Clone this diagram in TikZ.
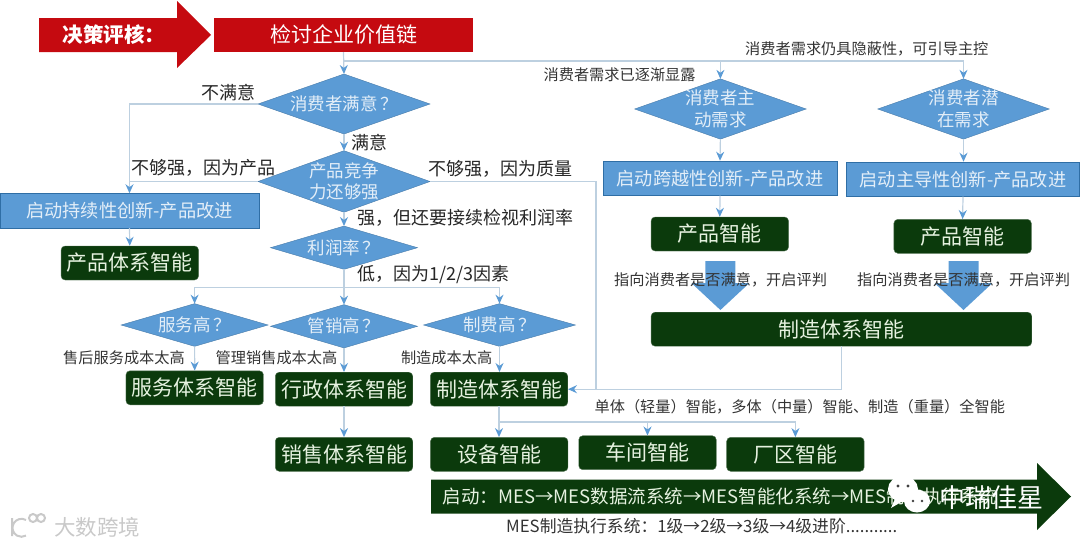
\documentclass[tikz,border=0pt]{standalone}
\usepackage{fontspec}
\usepackage{tikz}
\usetikzlibrary{shapes.geometric,arrows.meta}
\setmainfont{Noto Sans CJK SC}
\definecolor{redfill}{HTML}{C50A10}
\definecolor{bluefill}{HTML}{5B9BD5}
\definecolor{blueedge}{HTML}{2F6EA5}
\definecolor{bluetext}{HTML}{E3EEF8}
\definecolor{greenfill}{HTML}{0B3A0C}
\definecolor{greentext}{HTML}{E6F2E0}
\definecolor{linkgray}{HTML}{BDD0E0}
\definecolor{marktext}{HTML}{C9C9C9}
\tikzset{
    plain/.style={draw=linkgray, line width=1.2pt},
    link/.style={plain, -{Stealth[length=9pt,width=8pt,color=bluefill]}},
    decide/.style={diamond, shape aspect=3, fill=bluefill, draw=bluefill!80!black, thin, inner sep=-8pt, outer sep=0pt,
        text=bluetext, align=center, font=\fontsize{17.5}{21.5}\selectfont},
    bluebox/.style={draw=blueedge, fill=bluefill, thin, text=bluetext, inner sep=0pt, minimum height=34.5pt,
        font=\fontsize{18.2}{20}\selectfont},
    greenbox/.style={draw=greenfill!70!white, fill=greenfill, thin, rounded corners=4pt, text=greentext,
        inner sep=0pt, minimum height=34pt, minimum width=137.5pt, font=\fontsize{21}{24}\selectfont},
    bigtext/.style={text=black!85, inner sep=0pt, font=\fontsize{18}{21}\selectfont},
    smalltext/.style={text=black!80, inner sep=0pt, font=\fontsize{15.2}{18}\selectfont},
}

\begin{document}
\begin{tikzpicture}[x=1pt, y=-1pt]
    \useasboundingbox (0,0) rectangle (1080,546);

    % header
    \fill[redfill] (39,18) -- (177,18) -- (177,1) -- (211,35) -- (177,68) -- (177,52) -- (39,52) -- cycle;
    \node(textReview)[text=white, font=\fontsize{20.5}{24}\selectfont\bfseries] at (114,35) {决策评核：};
    \node(boxValue)[fill=redfill, text=white, inner sep=0pt, minimum width=259pt, minimum height=34pt,
        font=\fontsize{21}{24}\selectfont] at (343.5,35) {检讨企业价值链};

    % decisions
    \node(dmSat)[decide, minimum width=172pt, minimum height=60pt] at (344,104) {消费者满意\,？};
    \node(dmComp)[decide, minimum width=172pt, minimum height=61.6pt] at (344,181.5) {产品竞争\\力还够强};
    \node(dmProfit)[decide, minimum width=147pt, minimum height=43.3pt] at (344,247.7) {利润率\,？};
    \node(dmActive)[decide, minimum width=171.5pt, minimum height=60.3pt] at (720.4,109) {消费者主\\动需求};
    \node(dmLatent)[decide, minimum width=171.5pt, minimum height=60.3pt] at (963.5,109) {消费者潜\\在需求};
    \node(dmServ)[decide, minimum width=147pt, minimum height=42.7pt] at (194.6,325) {服务高\,？};
    \node(dmSales)[decide, minimum width=147pt, minimum height=43.3pt] at (344,326.3) {管销高\,？};
    \node(dmFee)[decide, minimum width=152pt, minimum height=42.7pt] at (499.5,325) {制费高\,？};

    % blue boxes
    \node(boxSust)[bluebox, minimum width=259pt] at (129.5,210.7) {启动持续性创新-产品改进};
    \node(boxCross)[bluebox, minimum width=233.8pt] at (720,178.2) {启动跨越性创新-产品改进};
    \node(boxLead)[bluebox, minimum width=233pt] at (963,179.2) {启动主导性创新-产品改进};

    % green boxes
    \foreach \name/\cx/\cy/\txt in {
        boxProd/129.8/263/产品体系智能, boxProdA/719.8/234/产品智能, boxProdB/962.6/236.3/产品智能,
        boxServ/194.7/387.8/服务体系智能, boxAdmin/344/389.2/行政体系智能, boxMfg/499/389.2/制造体系智能,
        boxSell/344/454.3/销售体系智能, boxDev/499.2/454.3/设备智能, boxShop/647.5/452.7/车间智能,
        boxPlant/795.4/454.3/厂区智能} {
        \node(\name)[greenbox] at (\cx,\cy) {\txt};
    }
    \node(boxWhole)[greenbox, minimum width=380.7pt] at (841.4,329.2) {制造体系智能};

    % connectors
    \coordinate (topJoin) at (344,61);
    \coordinate (sustJoin) at (boxSust.north |- dmComp.west);
    \coordinate (backTurn) at (596,389.2);
    \coordinate (rowJoin) at (344,287.3);
    \coordinate (devJoin) at (499.2,422);

    \draw[link] (boxValue.south) -- (dmSat.north);
    \draw[link] (topJoin) -| (dmLatent.north);
    \draw[link] (topJoin -| dmActive.north) -- (dmActive.north);
    \draw[link] (dmSat.south) -- (dmComp.north);
    \draw[link] (dmSat.west) -| (boxSust.north);
    \draw[plain] (dmComp.west) -- (sustJoin);
    \draw[link] (dmComp.south) -- (dmProfit.north);
    \draw[plain] (dmComp.east) -| (backTurn);
    \draw[link] (boxSust.south) -- (boxProd.north);
    \draw[link] (dmProfit.south) -- (dmSales.north);
    \draw[link] (rowJoin) -| (dmServ.north);
    \draw[link] (rowJoin) -| (dmFee.north);
    \draw[link] (dmServ.south) -- (boxServ.north);
    \draw[link] (dmSales.south) -- (boxAdmin.north);
    \draw[link] (dmFee.south) -- (dmFee.south |- boxMfg.north);
    \draw[link] (boxAdmin.south) -- (boxSell.north);
    \draw[link] (boxMfg.south) -- (boxMfg.south |- boxDev.north);
    \draw[link] (devJoin) -| (boxShop.north);
    \draw[link] (devJoin) -| (boxPlant.north);
    \draw[link] (dmActive.south) -- (boxCross.north);
    \draw[link] (dmLatent.south) -- (dmLatent.south |- boxLead.north);
    \draw[link] (boxCross.south) -- (boxProdA.north);
    \draw[link] (boxLead.south) -- (boxProdB.north);
    \draw[link] (boxWhole.south) |- (boxMfg.east);

    % wide arrows down to the system box
    \foreach \from/\mx in {boxProdA/720.4, boxProdB/963.5} {
        \fill[bluefill] (\mx-15,261) -- (\mx+15,261) -- (\mx+15,283) -- (\mx+29,283) -- (\mx,310)
            -- (\mx-29,283) -- (\mx-15,283) -- cycle;
    }

    % bottom arrow
    \fill[greenfill] (431,479.5) -- (1037,479.5) -- (1037,463) -- (1071,496.5) -- (1037,530) -- (1037,513.5)
        -- (431,513.5) -- cycle;
    \node(textMes)[anchor=west, inner sep=0pt, text=greentext, font=\fontsize{18.5}{22}\selectfont] at (442.5,496.5)
        {启动：MES→MES数据流系统→MES智能化系统→MES制造执行系统};

    % labels
    \node(lblNoSat)[bigtext] at (228,92.7) {不满意};
    \node(lblSat)[bigtext] at (369.5,142.7) {满意};
    \node(lblWeakProd)[bigtext, anchor=west] at (131,168) {不够强，因为产品};
    \node(lblWeakQual)[bigtext, anchor=west] at (428.7,169) {不够强，因为质量};
    \node(lblStrong)[bigtext, anchor=west] at (357,218) {强，但还要接续检视利润率};
    \node(lblLow)[bigtext, anchor=west] at (357,275) {低，因为1/2/3因素};
    \node(lblExplicit)[smalltext, anchor=west] at (543.4,75) {消费者需求已逐渐显露};
    \node(lblHidden)[smalltext, anchor=west] at (745,48.7) {消费者需求仍具隐蔽性，可引导主控};
    \node(lblPointA)[smalltext, anchor=west] at (614,280) {指向消费者是否满意，开启评判};
    \node(lblPointB)[smalltext, anchor=west] at (857,280) {指向消费者是否满意，开启评判};
    \node(lblServ)[smalltext, anchor=east] at (185,358) {售后服务成本太高};
    \node(lblSales)[smalltext, anchor=east] at (337.5,358) {管理销售成本太高};
    \node(lblFee)[smalltext, anchor=east] at (492.4,358) {制造成本太高};
    \node(lblScale)[smalltext, anchor=west] at (594.4,407.3) {单体（轻量）智能，多体（中量）智能、制造（重量）全智能};
    \node(lblLevels)[smalltext, anchor=west, font=\fontsize{16.8}{20}\selectfont] at (506,526) {MES制造执行系统：1级→2级→3级→4级进阶...........};

    % marks over the picture
    \fill[white] (903,489) ellipse (15pt and 13pt) (895,499) -- (891,508) -- (903,501) -- cycle;
    \fill[white] (917,501) ellipse (13pt and 11.5pt);
    \fill[black!75] (898,486) circle (1.6pt) (908,486) circle (1.6pt) (913,501) circle (1.4pt) (922,501) circle (1.4pt);
    \node(markStar)[text=white, font=\fontsize{26}{30}\selectfont] at (991,498) {中瑞佳星};
    \draw[marktext, line width=2pt] (12,518) -- (12,536) (26,520) arc (60:300:9pt and 9pt)
        (33,518) circle (4pt) (41,518) circle (4pt);
    \node(markCross)[text=marktext, font=\fontsize{21.5}{25}\selectfont] at (97,527) {大数跨境};
\end{tikzpicture}
\end{document}
